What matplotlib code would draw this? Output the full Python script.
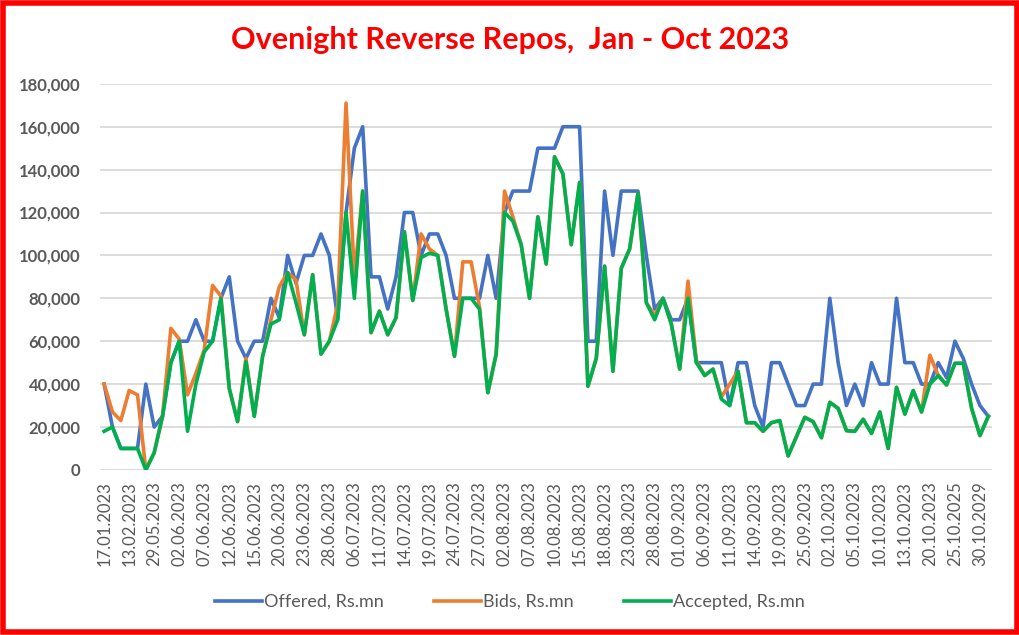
import matplotlib.pyplot as plt
import matplotlib.patches as patches
from matplotlib.ticker import FuncFormatter

# values, Rs.mn
offered = [40000, 20000, 10000, 10000, 10000, 40000, 20000, 25000, 50000, 60000,
           60000, 70000, 60000, 60000, 80000, 90000, 60000, 52000, 60000, 60000,
           80000, 71000, 100000, 87000, 100000, 100000, 110000, 100000, 70000, 120000,
           150000, 160000, 90000, 90000, 75000, 90000, 120000, 120000, 100000, 110000,
           110000, 100000, 80000, 80000, 80000, 80000, 100000, 80000, 120000, 130000,
           130000, 130000, 150000, 150000, 150000, 160000, 160000, 160000, 60000, 60000,
           130000, 100000, 130000, 130000, 130000, 100000, 75000, 80000, 70000, 70000,
           80000, 50000, 50000, 50000, 50000, 30000, 50000, 50000, 30000, 20000,
           50000, 50000, 40000, 30000, 30000, 40000, 40000, 80000, 50000, 30000,
           40000, 30000, 50000, 40000, 40000, 80000, 50000, 50000, 40000, 40000,
           50000, 43000, 60000, 52000, 40000, 30000, 25000]

bids = [40000, 27000, 23000, 37000, 35000, 0, 8000, 25000, 66000, 61000,
        35000, 45000, 56000, 86000, 81000, 38000, 22500, 52000, 25000, 53000,
        70000, 85500, 92000, 88500, 63000, 91000, 54000, 60000, 77000, 171000,
        90000, 130000, 64000, 74000, 63000, 71000, 111000, 79000, 110000, 103000,
        100000, 75000, 53000, 97000, 97000, 76000, 36000, 54000, 130000, 118000,
        105000, 80000, 118000, 96000, 146000, 138000, 105000, 134000, 39000, 52000,
        95000, 46000, 94000, 103000, 129000, 78000, 72000, 80000, 68000, 47000,
        88000, 51000, 44000, 47000, 34000, 40000, 46000, 22000, 22000, 18000,
        22000, 23000, 6500, 15500, 24500, 22500, 15000, 31500, 28700, 18300,
        18000, 23600, 17000, 27000, 10000, 38500, 26000, 37000, 27000, 53500,
        44000, 39600, 49700, 49700, 28700, 16000, 25000]

accepted = [18000, 20000, 10000, 10000, 10000, 0, 8000, 25000, 50000, 60000,
            18000, 40000, 55000, 60000, 80000, 38000, 22500, 50500, 25000, 53000,
            68000, 70000, 92000, 78000, 63000, 91000, 54000, 60000, 70000, 120000,
            80000, 130000, 64000, 74000, 63000, 71000, 111000, 79000, 99000, 101000,
            100000, 75000, 53000, 80000, 80000, 75000, 36000, 54000, 120000, 116000,
            105000, 80000, 118000, 96000, 146000, 138000, 105000, 134000, 39000, 52000,
            95000, 46000, 94000, 103000, 129000, 78000, 70000, 80000, 68000, 47000,
            80000, 50000, 44000, 47000, 33000, 30000, 46000, 22000, 22000, 18000,
            22000, 23000, 6500, 15500, 24500, 22500, 15000, 31500, 28700, 18300,
            18000, 23600, 17000, 27000, 10000, 38500, 26000, 37000, 27000, 40000,
            44000, 39600, 49700, 49700, 28700, 16000, 25000]

# every third date is labelled on the axis
tick_labels = ['17.01.2023', '13.02.2023', '29.05.2023', '02.06.2023', '07.06.2023',
               '12.06.2023', '15.06.2023', '20.06.2023', '23.06.2023', '28.06.2023',
               '06.07.2023', '11.07.2023', '14.07.2023', '19.07.2023', '24.07.2023',
               '27.07.2023', '02.08.2023', '07.08.2023', '10.08.2023', '15.08.2023',
               '18.08.2023', '23.08.2023', '28.08.2023', '01.09.2023', '06.09.2023',
               '11.09.2023', '14.09.2023', '19.09.2023', '25.09.2023', '02.10.2023',
               '05.10.2023', '10.10.2023', '13.10.2023', '20.10.2023', '25.10.2025',
               '30.10.2029']

plt.rcParams['font.family'] = ['Lato', 'DejaVu Sans']

n = len(offered)
x = list(range(n))

fig = plt.figure(figsize=(10.2, 6.35), dpi=100)
ax = fig.add_axes([0.098, 0.26, 0.875, 0.608])

ax.plot(x, offered, color='#4472C4', lw=2.6, label='Offered, Rs.mn', solid_joinstyle='round')
ax.plot(x, bids, color='#ED7D31', lw=2.6, label='Bids, Rs.mn', solid_joinstyle='round')
ax.plot(x, accepted, color='#00B050', lw=2.6, label='Accepted, Rs.mn', solid_joinstyle='round')

ax.set_xlim(-0.5, n - 0.5)
ax.set_ylim(0, 180000)
ax.set_yticks(range(0, 180001, 20000))
ax.yaxis.set_major_formatter(FuncFormatter(lambda v, p: '{:,.0f}'.format(v)))
ax.grid(axis='y', color='#d9d9d9', lw=1.3)
ax.set_axisbelow(True)
for s in ax.spines.values():
    s.set_visible(False)

ax.set_xticks(range(0, n, 3))
ax.set_xticklabels(tick_labels, rotation=90, fontsize=12, color='#595959')
ax.tick_params(axis='both', length=0)
ax.tick_params(axis='x', pad=8)
ax.tick_params(axis='y', pad=14)
for t in ax.get_yticklabels():
    t.set_fontsize(12)
    t.set_fontweight('bold')
    t.set_color('#595959')

fig.text(0.5, 0.937, 'Ovenight Reverse Repos,  Jan - Oct 2023', ha='center', va='center',
         fontsize=22, fontweight='bold', color='#FF0000')

fig.legend(loc='center', bbox_to_anchor=(0.5, 0.052), ncol=3, frameon=False,
           fontsize=13, labelcolor='#595959', handlelength=2.6, handletextpad=0.1,
           columnspacing=2.8)

fig.patches.append(patches.Rectangle((0.0025, 0.004), 0.995, 0.992, transform=fig.transFigure,
                                     fill=False, edgecolor='#FF0000', lw=4))

fig.savefig('out.png', dpi=100)
